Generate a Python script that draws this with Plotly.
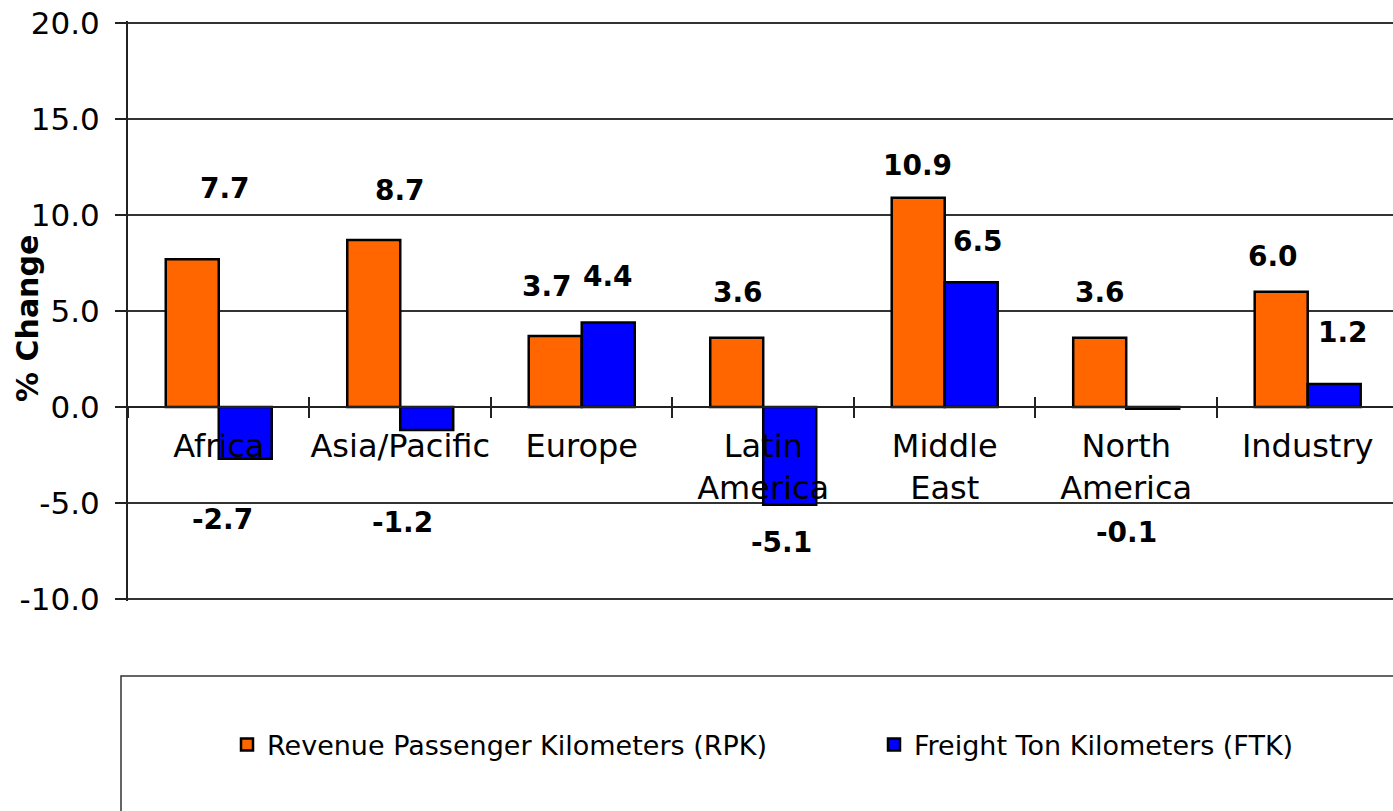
import plotly.graph_objects as go

# ---- data ----
categories = ["Africa", "Asia/Pacific", "Europe", "Latin<br>America",
              "Middle<br>East", "North<br>America", "Industry"]
rpk = [7.7, 8.7, 3.7, 3.6, 10.9, 3.6, 6.0]
ftk = [-2.7, -1.2, 4.4, -5.1, 6.5, -0.1, 1.2]
series_names = ["Revenue Passenger Kilometers (RPK)", "Freight Ton Kilometers (FTK)"]
y_ticks = [-10, -5, 0, 5, 10, 15, 20]
y_tick_text = [f"{v:.1f}" for v in y_ticks]

# label nudges (px) relative to the bar end: (dx, dy), dy positive = down
rpk_label_nudge = [(33, -71), (26, -50), (-8, -49), (1, -45), (-1, -32), (0, -45), (-8, -35)]
ftk_label_nudge = [(-23, 61), (-24, 93), (0, -46), (-8, 38), (7, -41), (-26, 124), (9, -51)]

FONT = "DejaVu Sans"
W, H = 1393, 811
ML, MT, MB, MR = 128, 21, 210, 0
plot_w = W - ML - MR
plot_h = H - MT - MB
x_range = [-0.5, 6.47]
y_pad = 0.12
y_range = [y_ticks[0] - y_pad, y_ticks[-1] + y_pad]
cat_px = plot_w / (x_range[1] - x_range[0])
bargap = 0.416
bar_px = cat_px * (1 - bargap) / 2


def py(px):
    """pixel row -> paper y"""
    return (plot_h - (px - MT)) / plot_h


fig = go.Figure()
fig.add_trace(go.Bar(x=categories, y=rpk, name=series_names[0], legend="legend",
                     marker=dict(color="#FF6600", line=dict(color="black", width=2.5))))
fig.add_trace(go.Bar(x=categories, y=ftk, name=series_names[1], legend="legend2",
                     marker=dict(color="#0000FF", line=dict(color="black", width=2.5))))
# helper trace for the upper half of crossing category ticks
fig.add_trace(go.Scatter(x=categories, y=[0] * len(categories), xaxis="x2",
                         mode="markers", marker=dict(opacity=0),
                         showlegend=False, hoverinfo="skip"))

zero_pos = (0 - y_range[0]) / (y_range[1] - y_range[0])

annotations = []
for vals, nudge, sgn in ((rpk, rpk_label_nudge, -1), (ftk, ftk_label_nudge, 1)):
    for cat, v, (dx, dy) in zip(categories, vals, nudge):
        annotations.append(dict(
            x=cat, y=v, xref="x", yref="y", text=f"{v:.1f}", showarrow=False,
            xshift=sgn * bar_px / 2 + dx, yshift=-dy,
            xanchor="center", yanchor="middle",
            font=dict(family=FONT, size=28, color="black", weight="bold")))

# y-axis title
annotations.append(dict(
    x=(27 - ML) / plot_w, y=py(319), xref="paper", yref="paper",
    text="% Change", textangle=-90, showarrow=False, xanchor="center", yanchor="middle",
    font=dict(family=FONT, size=30, color="black", weight="bold")))

legend_common = dict(orientation="h", xanchor="left",
                     y=py(745), yanchor="middle",
                     font=dict(family=FONT, size=27, color="black"),
                     bgcolor="rgba(0,0,0,0)", itemclick=False)

fig.update_layout(
    width=W, height=H,
    margin=dict(l=ML, r=MR, t=MT, b=MB, pad=0, autoexpand=False),
    paper_bgcolor="white", plot_bgcolor="white",
    barmode="group", bargap=bargap, bargroupgap=0,
    font=dict(family=FONT, color="black"),
    showlegend=True,
    legend=dict(x=(227 - ML) / plot_w, **legend_common),
    legend2=dict(x=(874 - ML) / plot_w, **legend_common),
    xaxis=dict(type="category", range=x_range, anchor="free", position=zero_pos,
               showline=True, linecolor="#222", linewidth=1.5,
               tickson="boundaries", ticks="outside", ticklen=10, tickwidth=1.5,
               tickcolor="#222", showgrid=False, zeroline=False, tickangle=0,
               automargin=False,
               tickfont=dict(family=FONT, size=32, color="black"),
               ticklabelstandoff=11, fixedrange=True),
    xaxis2=dict(type="category", range=x_range, overlaying="x", anchor="free",
                position=zero_pos, side="bottom", showline=False, automargin=False,
                tickson="boundaries", ticks="inside", ticklen=10, tickwidth=1.5,
                tickcolor="#222", showticklabels=False, showgrid=False, zeroline=False),
    yaxis=dict(range=y_range, tickvals=y_ticks, ticktext=y_tick_text,
               showline=True, linecolor="#222", linewidth=2, automargin=False,
               ticks="outside", ticklen=11, tickwidth=1.5, tickcolor="#222",
               showgrid=True, gridcolor="#333", gridwidth=1.5, zeroline=False,
               tickfont=dict(family=FONT, size=31, color="black"),
               ticklabelstandoff=9, fixedrange=True),
    annotations=annotations,
    shapes=[dict(type="rect", xref="paper", yref="paper",
                 x0=(121 - ML) / plot_w, x1=1.02,
                 y0=py(676), y1=py(840),
                 line=dict(color="#333", width=1.5), fillcolor="rgba(0,0,0,0)",
                 layer="below")],
)

fig.write_html("out.html")
